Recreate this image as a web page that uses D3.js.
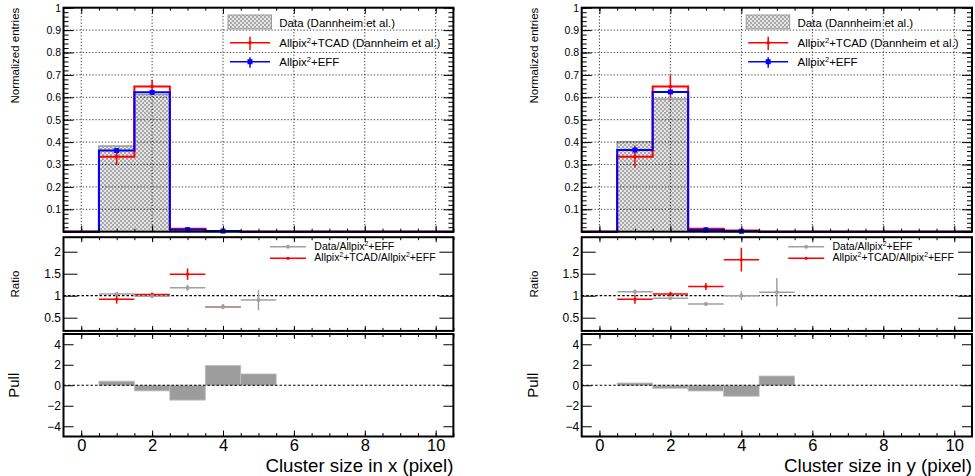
<!DOCTYPE html>
<html>
<head>
<meta charset="utf-8">
<script src="https://cdn.jsdelivr.net/npm/d3@7"></script>
<style>
  body { margin: 0; background: #fff; }
  svg { display: block; font-family: "Liberation Sans", Arial, Helvetica, sans-serif; }
</style>
</head>
<body>
<script>
(function (d3) {
  "use strict";

  /***** Data *****/
  var clusterSizes = d3.range(0, 11);          // bin centres 0..10
  var xTickLabels = [0, 2, 4, 6, 8, 10];
  var ratioBins = [1, 2, 3, 4, 5];
  var ratioTcadBins = [1, 2, 3, 4];
  var pullBins = [1, 2, 3, 4, 5];

  // cluster size in x
  var dataX    = [0, 0.383, 0.613, 0.010, 0.003, 0, 0, 0, 0, 0, 0];
  var tcadX    = [0, 0.335, 0.648, 0.013, 0.002, 0, 0, 0, 0, 0, 0];
  var tcadErrX = [0, 0.037, 0.030, 0.003, 0.001, 0, 0, 0, 0, 0, 0];
  var effX     = [0, 0.362, 0.622, 0.009, 0.003, 0, 0, 0, 0, 0, 0];
  var effErrX  = [0, 0.004, 0.005, 0.001, 0.001, 0, 0, 0, 0, 0, 0];
  var ratioDataX    = [1.04, 0.99, 1.18, 0.75, 0.90];
  var ratioDataErrX = [0.02, 0.02, 0.07, 0.05, 0.23];
  var ratioTcadX    = [0.92, 1.03, 1.49, 0.75];
  var ratioTcadErrX = [0.10, 0.04, 0.13, 0.05];
  var pullX = [0.40, -0.55, -1.45, 1.92, 1.10];

  // cluster size in y
  var dataY    = [0, 0.402, 0.592, 0.010, 0.003, 0, 0, 0, 0, 0, 0];
  var tcadY    = [0, 0.335, 0.648, 0.013, 0.005, 0, 0, 0, 0, 0, 0];
  var tcadErrY = [0, 0.050, 0.050, 0.004, 0.002, 0, 0, 0, 0, 0, 0];
  var effY     = [0, 0.365, 0.624, 0.008, 0.002, 0, 0, 0, 0, 0, 0];
  var effErrY  = [0, 0.004, 0.005, 0.001, 0.001, 0, 0, 0, 0, 0, 0];
  var ratioDataY    = [1.09, 0.94, 0.81, 1.00, 1.08];
  var ratioDataErrY = [0.05, 0.03, 0.04, 0.10, 0.32];
  var ratioTcadY    = [0.92, 1.04, 1.21, 1.82];
  var ratioTcadErrY = [0.10, 0.05, 0.08, 0.27];
  var pullY = [0.22, -0.30, -0.56, -1.07, 0.90];

  /***** Layout *****/
  var width = 975, height = 476;
  var topPanel = [231.7, 7.7], ratioPanel = [330.9, 237.2], pullPanel = [436.5, 334];

  var plots = [
    { x0: 63.5, x1: 453.4, titleX: 15, axisTitle: "Cluster size in x (pixel)",
      data: dataX, tcad: tcadX, tcadErr: tcadErrX, eff: effX, effErr: effErrX,
      rData: ratioDataX, rDataErr: ratioDataErrX, rTcad: ratioTcadX, rTcadErr: ratioTcadErrX, pull: pullX },
    { x0: 581.7, x1: 972, titleX: 533.5, axisTitle: "Cluster size in y (pixel)",
      data: dataY, tcad: tcadY, tcadErr: tcadErrY, eff: effY, effErr: effErrY,
      rData: ratioDataY, rDataErr: ratioDataErrY, rTcad: ratioTcadY, rTcadErr: ratioTcadErrY, pull: pullY }
  ];

  var RED = "#ff0000", BLUE = "#0000ff", GREY = "#a0a0a0";

  var svg = d3.select("body").append("svg").attr("width", width).attr("height", height);

  var pat = svg.append("defs").append("pattern").attr("id", "hatch")
      .attr("patternUnits", "userSpaceOnUse").attr("width", 4).attr("height", 4);
  pat.append("rect").attr("width", 4).attr("height", 4).attr("fill", "#e6e6e6");
  pat.append("rect").attr("width", 2).attr("height", 2).attr("fill", "#a8a8a8");
  pat.append("rect").attr("x", 2).attr("y", 2).attr("width", 2).attr("height", 2).attr("fill", "#a8a8a8");

  /***** Helpers *****/
  function addTicks(parent, orient, scale, values, len, pos, fmt, pad, fontSize) {
    var gen = { left: d3.axisLeft, right: d3.axisRight, top: d3.axisTop, bottom: d3.axisBottom }[orient];
    var ax = gen(scale).tickValues(values).tickSizeInner(-len).tickSizeOuter(0)
        .tickPadding(pad || 3).tickFormat(fmt || function () { return ""; });
    var vertical = orient === "left" || orient === "right";
    var g = parent.append("g")
        .attr("transform", vertical ? "translate(" + pos + ",0)" : "translate(0," + pos + ")")
        .call(ax)
        .attr("font-family", null)
        .attr("font-size", fontSize || null);
    g.select(".domain").remove();
    g.selectAll("line").attr("stroke", "#000").attr("stroke-width", 1);
    g.selectAll("text").attr("fill", "#000");
    return g;
  }

  function stepPoints(vals) {
    var pts = [];
    clusterSizes.forEach(function (c, i) { pts.push([c - 0.5, vals[i]], [c + 0.5, vals[i]]); });
    return pts;
  }

  // "Allpix²" written with a raised small 2
  function sup2(sel, before) {
    sel.append("tspan").text(before + "Allpix");
    sel.append("tspan").attr("dy", -4).attr("font-size", "0.65em").text("2");
  }
  function allpixText(sel, before, after) {
    sup2(sel, before);
    sel.append("tspan").attr("dy", 4).text(after);
  }

  var fmt = d3.format("~g");

  function drawPlot(p) {
    var x = d3.scaleLinear().domain([-0.5, 10.5]).range([p.x0, p.x1]);
    var yTop = d3.scaleLinear().domain([0, 1]).range(topPanel);
    var yRatio = d3.scaleLinear().domain([0.2, 2.33]).range(ratioPanel);
    var yPull = d3.scaleLinear().domain([-5, 5]).range(pullPanel);
    var g = svg.append("g");
    var xMinor = d3.range(0, 10.51, 0.5);

    /* ---- top panel ---- */
    var top = g.append("g");
    var line = d3.line().x(function (d) { return x(d[0]); }).y(function (d) { return yTop(d[1]); });

    top.append("path").datum(stepPoints(p.data))
        .attr("d", d3.area().x(function (d) { return x(d[0]); }).y0(yTop(0)).y1(function (d) { return yTop(d[1]); }))
        .attr("fill", "url(#hatch)");
    top.append("path").datum(stepPoints(p.data)).attr("d", line)
        .attr("fill", "none").attr("stroke", "#9a9a9a").attr("stroke-width", 1.5);

    // grid
    top.selectAll(".hgrid").data(d3.range(1, 10).map(function (i) { return i / 10; })).join("line")
        .attr("x1", p.x0).attr("x2", p.x1)
        .attr("y1", function (d) { return yTop(d); }).attr("y2", function (d) { return yTop(d); })
        .attr("stroke", "#000").attr("stroke-width", 0.8).attr("stroke-dasharray", "1.2,2");
    top.selectAll(".vgrid").data(xTickLabels).join("line")
        .attr("x1", function (d) { return x(d); }).attr("x2", function (d) { return x(d); })
        .attr("y1", yTop(0)).attr("y2", yTop(1))
        .attr("stroke", "#000").attr("stroke-width", 0.8).attr("stroke-dasharray", "1.2,2");

    top.append("path").datum(stepPoints(p.tcad)).attr("d", line)
        .attr("fill", "none").attr("stroke", RED).attr("stroke-width", 2);
    top.append("path").datum(stepPoints(p.eff)).attr("d", line)
        .attr("fill", "none").attr("stroke", BLUE).attr("stroke-width", 2);

    var tcadIdx = clusterSizes.filter(function (c, i) { return p.tcad[i] > 0; });
    var effIdx = clusterSizes.filter(function (c, i) { return p.eff[i] > 0; });

    top.selectAll(".terr").data(tcadIdx).join("line")
        .attr("x1", function (c) { return x(c); }).attr("x2", function (c) { return x(c); })
        .attr("y1", function (c) { return yTop(p.tcad[c] - p.tcadErr[c]); })
        .attr("y2", function (c) { return yTop(p.tcad[c] + p.tcadErr[c]); })
        .attr("stroke", RED).attr("stroke-width", 1.5);
    top.selectAll(".tmk").data(tcadIdx).join("circle")
        .attr("cx", function (c) { return x(c); }).attr("cy", function (c) { return yTop(p.tcad[c]); })
        .attr("r", 1.8).attr("fill", RED);
    top.selectAll(".eerr").data(effIdx).join("line")
        .attr("x1", function (c) { return x(c); }).attr("x2", function (c) { return x(c); })
        .attr("y1", function (c) { return yTop(p.eff[c] - p.effErr[c]); })
        .attr("y2", function (c) { return yTop(p.eff[c] + p.effErr[c]); })
        .attr("stroke", BLUE).attr("stroke-width", 1.5);
    top.selectAll(".emk").data(effIdx).join("rect")
        .attr("x", function (c) { return x(c) - 2.5; }).attr("y", function (c) { return yTop(p.eff[c]) - 2.5; })
        .attr("width", 5).attr("height", 5).attr("fill", BLUE);

    // legend
    var lx = p.x0;
    var leg = top.append("g").attr("font-size", 11.5);
    leg.append("rect").attr("x", lx + 164.5).attr("y", 15).attr("width", 43.5).attr("height", 14)
        .attr("fill", "url(#hatch)").attr("stroke", "#9a9a9a").attr("stroke-width", 1);
    leg.append("text").attr("x", lx + 215.8).attr("y", 27.4).text("Data (Dannheim et al.)");
    leg.append("line").attr("x1", lx + 166.5).attr("x2", lx + 206.5).attr("y1", 42.7).attr("y2", 42.7)
        .attr("stroke", RED).attr("stroke-width", 1.5);
    leg.append("line").attr("x1", lx + 186.5).attr("x2", lx + 186.5).attr("y1", 36.7).attr("y2", 50)
        .attr("stroke", RED).attr("stroke-width", 1.5);
    leg.append("circle").attr("cx", lx + 186.5).attr("cy", 42.7).attr("r", 1.8).attr("fill", RED);
    allpixText(leg.append("text").attr("x", lx + 215.8).attr("y", 47.4), "", "+TCAD (Dannheim et al.)");
    leg.append("line").attr("x1", lx + 166.5).attr("x2", lx + 206.5).attr("y1", 61.7).attr("y2", 61.7)
        .attr("stroke", BLUE).attr("stroke-width", 1.5);
    leg.append("line").attr("x1", lx + 186.5).attr("x2", lx + 186.5).attr("y1", 57.3).attr("y2", 67.7)
        .attr("stroke", BLUE).attr("stroke-width", 1.5);
    leg.append("rect").attr("x", lx + 184).attr("y", 59.2).attr("width", 5).attr("height", 5).attr("fill", BLUE);
    allpixText(leg.append("text").attr("x", lx + 215.8).attr("y", 66.4), "", "+EFF");

    // ticks + frame
    var yMajor = d3.range(0, 11).map(function (i) { return i / 10; });
    var yMinor = d3.range(0, 51).map(function (i) { return i / 50; });
    addTicks(top, "left", yTop, yMinor, 5, p.x0);
    addTicks(top, "right", yTop, yMinor, 5, p.x1);
    addTicks(top, "left", yTop, yMajor, 10, p.x0, function (d) { return d === 0 ? "" : fmt(d); }, 2.5, 10.5);
    addTicks(top, "right", yTop, yMajor, 10, p.x1);
    addTicks(top, "top", x, xMinor, 3, topPanel[1]);
    addTicks(top, "top", x, xTickLabels, 6, topPanel[1]);
    addTicks(top, "bottom", x, xMinor, 3, topPanel[0]);
    addTicks(top, "bottom", x, xTickLabels, 6, topPanel[0]);
    top.append("rect").attr("x", p.x0).attr("y", topPanel[1])
        .attr("width", p.x1 - p.x0).attr("height", topPanel[0] - topPanel[1])
        .attr("fill", "none").attr("stroke", "#000").attr("stroke-width", 2);
    top.append("text").attr("transform", "translate(" + p.titleX + "," + topPanel[1] + ") rotate(-90)")
        .attr("text-anchor", "end").attr("dy", "0.35em").attr("font-size", 11.5).text("Normalized entries");

    /* ---- ratio panel ---- */
    var rat = g.append("g");
    rat.append("line").attr("x1", p.x0).attr("x2", p.x1).attr("y1", yRatio(1)).attr("y2", yRatio(1))
        .attr("stroke", "#000").attr("stroke-width", 1.2).attr("stroke-dasharray", "2.5,2");

    function ratioPoints(bins, vals, errs, color, r) {
      var sel = rat.append("g");
      sel.selectAll(".h").data(bins).join("line")
          .attr("x1", function (c) { return x(c - 0.5); }).attr("x2", function (c) { return x(c + 0.5); })
          .attr("y1", function (c, i) { return yRatio(vals[i]); }).attr("y2", function (c, i) { return yRatio(vals[i]); })
          .attr("stroke", color).attr("stroke-width", 1.5);
      sel.selectAll(".v").data(bins).join("line")
          .attr("x1", function (c) { return x(c); }).attr("x2", function (c) { return x(c); })
          .attr("y1", function (c, i) { return yRatio(vals[i] - errs[i]); })
          .attr("y2", function (c, i) { return yRatio(vals[i] + errs[i]); })
          .attr("stroke", color).attr("stroke-width", 1.5);
      sel.selectAll("circle").data(bins).join("circle")
          .attr("cx", function (c) { return x(c); }).attr("cy", function (c, i) { return yRatio(vals[i]); })
          .attr("r", r).attr("fill", color);
    }
    ratioPoints(ratioTcadBins, p.rTcad, p.rTcadErr, RED, 1.6);
    ratioPoints(ratioBins, p.rData, p.rDataErr, GREY, 2);

    var rleg = rat.append("g").attr("font-size", 10.5);
    rleg.append("line").attr("x1", lx + 206.5).attr("x2", lx + 242.5).attr("y1", 246.7).attr("y2", 246.7)
        .attr("stroke", GREY).attr("stroke-width", 1.5);
    rleg.append("circle").attr("cx", lx + 224.5).attr("cy", 246.7).attr("r", 2).attr("fill", GREY);
    allpixText(rleg.append("text").attr("x", lx + 250.8).attr("y", 249.8), "Data/", "+EFF");
    rleg.append("line").attr("x1", lx + 206.5).attr("x2", lx + 242.5).attr("y1", 258.3).attr("y2", 258.3)
        .attr("stroke", RED).attr("stroke-width", 1.5);
    rleg.append("circle").attr("cx", lx + 224.5).attr("cy", 258.3).attr("r", 1.6).attr("fill", RED);
    var t2 = rleg.append("text").attr("x", lx + 250.8).attr("y", 261);
    sup2(t2, "");
    t2.append("tspan").attr("dy", 4).text("+TCAD/Allpix");
    t2.append("tspan").attr("dy", -4).attr("font-size", "0.65em").text("2");
    t2.append("tspan").attr("dy", 4).text("+EFF");

    var rMajor = [0.5, 1, 1.5, 2];
    addTicks(rat, "left", yRatio, rMajor, 14, p.x0, fmt, 2.5, 12);
    addTicks(rat, "right", yRatio, rMajor, 14, p.x1);
    addTicks(rat, "top", x, xMinor, 3, ratioPanel[1]);
    addTicks(rat, "top", x, xTickLabels, 5, ratioPanel[1]);
    addTicks(rat, "bottom", x, xMinor, 3, ratioPanel[0]);
    addTicks(rat, "bottom", x, xTickLabels, 5, ratioPanel[0]);
    rat.append("rect").attr("x", p.x0).attr("y", ratioPanel[1])
        .attr("width", p.x1 - p.x0).attr("height", ratioPanel[0] - ratioPanel[1])
        .attr("fill", "none").attr("stroke", "#000").attr("stroke-width", 2);
    rat.append("text").attr("transform", "translate(" + p.titleX + "," + (ratioPanel[0] + ratioPanel[1]) / 2 + ") rotate(-90)")
        .attr("text-anchor", "middle").attr("dy", "0.35em").attr("font-size", 11.5).text("Ratio");

    /* ---- pull panel ---- */
    var pl = g.append("g");
    pl.selectAll(".bar").data(pullBins).join("rect")
        .attr("x", function (c) { return x(c - 0.5); })
        .attr("width", function (c) { return x(c + 0.5) - x(c - 0.5); })
        .attr("y", function (c, i) { return yPull(Math.max(0, p.pull[i])); })
        .attr("height", function (c, i) { return Math.abs(yPull(p.pull[i]) - yPull(0)); })
        .attr("fill", "#9c9c9c").attr("stroke", "#bdbdbd").attr("stroke-width", 0.8);
    pl.append("line").attr("x1", p.x0).attr("x2", p.x1).attr("y1", yPull(0)).attr("y2", yPull(0))
        .attr("stroke", "#000").attr("stroke-width", 1.2).attr("stroke-dasharray", "2.5,2");

    var pMajor = [-4, -2, 0, 2, 4];
    addTicks(pl, "left", yPull, pMajor, 10, p.x0, fmt, 2.5, 12);
    addTicks(pl, "right", yPull, pMajor, 10, p.x1);
    addTicks(pl, "top", x, xMinor, 3, pullPanel[1]);
    addTicks(pl, "top", x, xTickLabels, 5, pullPanel[1]);
    addTicks(pl, "bottom", x, xMinor, 3.5, pullPanel[0]);
    addTicks(pl, "bottom", x, xTickLabels, 6, pullPanel[0], fmt, 2.6, 16.5);
    pl.append("rect").attr("x", p.x0).attr("y", pullPanel[1])
        .attr("width", p.x1 - p.x0).attr("height", pullPanel[0] - pullPanel[1])
        .attr("fill", "none").attr("stroke", "#000").attr("stroke-width", 2);
    pl.append("text").attr("transform", "translate(" + (p.titleX - 1) + "," + (pullPanel[0] + pullPanel[1]) / 2 + ") rotate(-90)")
        .attr("text-anchor", "middle").attr("dy", "0.35em").attr("font-size", 15).text("Pull");

    g.append("text").attr("x", p.x1).attr("y", 471.5).attr("text-anchor", "end")
        .attr("font-size", 18.7).text(p.axisTitle);
  }

  plots.forEach(drawPlot);

})(d3);
</script>
</body>
</html>
